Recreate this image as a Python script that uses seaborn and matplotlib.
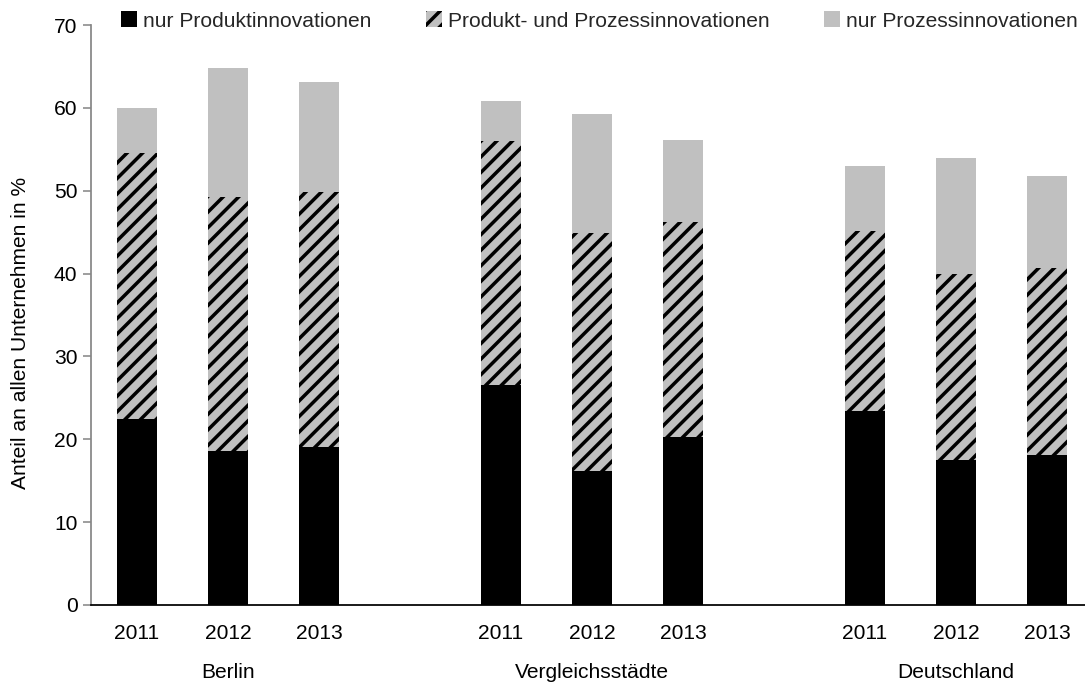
import matplotlib
matplotlib.use("Agg")
import matplotlib.pyplot as plt
import matplotlib.transforms as mtransforms
from matplotlib.patches import Patch
import seaborn as sns
import pandas as pd
import numpy as np

# ---- data ----
groups = ["Berlin", "Vergleichsstädte", "Deutschland"]
years = ["2011", "2012", "2013"]
nur_produkt = [22.4, 18.6, 19.1, 26.6, 16.2, 20.3, 23.4, 17.5, 18.1]
produkt_prozess = [32.2, 30.6, 30.7, 29.4, 28.7, 25.9, 21.7, 22.4, 22.6]
nur_prozess = [5.4, 15.6, 13.3, 4.8, 14.4, 9.9, 7.9, 14.0, 11.1]
series_names = ["nur Produktinnovationen", "Produkt- und Prozessinnovationen", "nur Prozessinnovationen"]
ylabel = "Anteil an allen Unternehmen in %"

DPI = 140
sns.set_theme(style="white")
plt.rcParams["font.family"] = ["Liberation Sans", "DejaVu Sans"]
plt.rcParams["hatch.linewidth"] = 1.8
FS = 10.8

# positions: three groups of three bars with an empty slot gap of one
pos = [g * 4 + i for g in range(3) for i in range(3)]
df = pd.DataFrame({
    "pos": pos,
    "black": nur_produkt,
    "mid": np.array(nur_produkt) + np.array(produkt_prozess),
    "total": np.array(nur_produkt) + np.array(produkt_prozess) + np.array(nur_prozess),
})

fig = plt.figure(figsize=(1085 / DPI, 684 / DPI), dpi=DPI)
ax = fig.add_axes([91 / 1085, 1 - 605 / 684, 1 - 91 / 1085, (605 - 25) / 684])

W = 0.44
HATCH = "///"
sns.barplot(data=df, x="pos", y="total", native_scale=True, width=W,
            color="#C0C0C0", saturation=1, linewidth=0, ax=ax, errorbar=None)
sns.barplot(data=df, x="pos", y="mid", native_scale=True, width=W,
            color="#C0C0C0", saturation=1, linewidth=0, edgecolor="black",
            hatch=HATCH, ax=ax, errorbar=None)
sns.barplot(data=df, x="pos", y="black", native_scale=True, width=W,
            color="black", saturation=1, linewidth=0, ax=ax, errorbar=None)

ax.set_xlim(-0.5055, 10.418)
ax.set_ylim(0, 70)
ax.set_yticks(range(0, 71, 10))
ax.set_yticklabels([str(v) for v in range(0, 71, 10)], fontsize=FS, color="black")
ax.set_xticks(pos)
ax.set_xticklabels(years * 3, fontsize=FS, color="black")
ax.tick_params(axis="x", length=0, pad=10)
ax.tick_params(axis="y", length=4, width=0.8, color="#868686", direction="out", pad=3, left=True)
ax.set_xlabel("")
ax.set_ylabel("")

for s in ["top", "right"]:
    ax.spines[s].set_visible(False)
ax.spines["left"].set_color("#868686")
ax.spines["left"].set_linewidth(0.9)
ax.spines["bottom"].set_color("black")
ax.spines["bottom"].set_linewidth(0.9)

# group labels
trans = mtransforms.blended_transform_factory(ax.transData, fig.transFigure)
for g, name in enumerate(groups):
    ax.text(g * 4 + 1, 1 - 672 / 684, name, transform=trans, ha="center", va="center",
            fontsize=FS, color="black")

fig.text(21 / 1085, 1 - 333 / 684, ylabel, rotation=90, ha="center", va="center",
         fontsize=FS, color="black")

handles = [
    Patch(facecolor="black", edgecolor="black", linewidth=0),
    Patch(facecolor="#C0C0C0", edgecolor="black", linewidth=0, hatch=HATCH),
    Patch(facecolor="#C0C0C0", edgecolor="#C0C0C0", linewidth=0),
]
fig.legend(handles, series_names, loc="center left", bbox_to_anchor=(121 / 1085, 1 - 21 / 684),
           ncol=3, frameon=False, fontsize=FS, handlelength=0.75, handleheight=0.75,
           handletextpad=0.3, columnspacing=2.6, borderpad=0, borderaxespad=0)

fig.savefig("out.png", dpi=DPI)
